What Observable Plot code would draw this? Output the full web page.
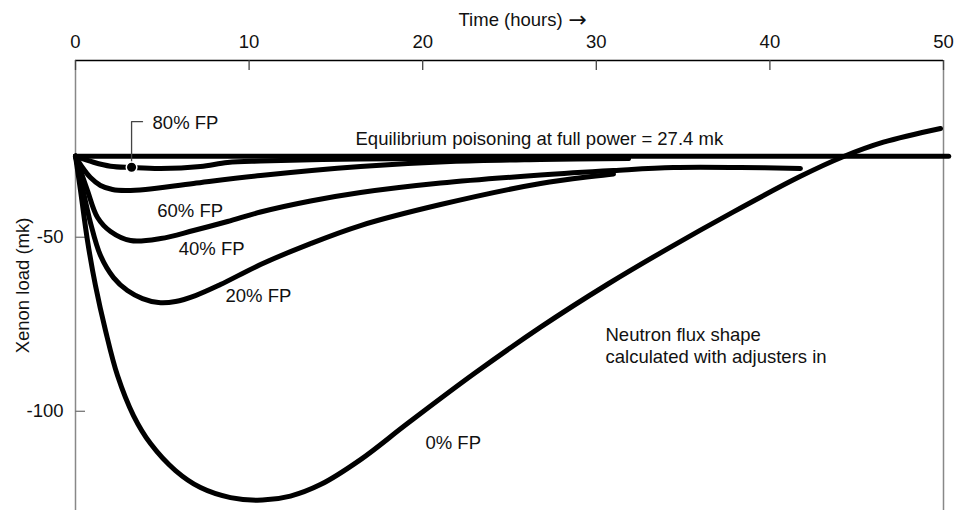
<!DOCTYPE html>
<html>
<head>
<meta charset="utf-8">
<script src="https://cdn.jsdelivr.net/npm/d3@7"></script>
<script src="https://cdn.jsdelivr.net/npm/@observablehq/plot@0.6"></script>
<style>
  html, body { margin: 0; padding: 0; background: #fff; }
  #chart svg { display: block; }
</style>
</head>
<body>
<div id="chart"></div>
<script>
// ---- axis ticks ----
const xTicks = [0, 10, 20, 30, 40, 50];
const yTicks = [-50, -100];
const xDomain = [0, 50];
const yDomain = [-128.5, 0.78];

// ---- series (time in hours, xenon load in mk) ----
const eqHours = [0, 50.3];
const eqLoad = [-26.7, -26.7];

const fp80Hours = [0, 1.04, 2.02, 3.23, 4.90, 7.20, 8.76, 10.66, 16.42, 21.60, 31.85];
const fp80Load  = [-26.7, -28.45, -29.6, -29.97, -30.26, -29.68, -28.53, -28.1, -27.53, -27.38, -27.38];

const fp60Hours = [0, 0.40, 0.86, 1.44, 2.13, 2.88, 4.03, 6.80, 10.66, 16.42, 21.60, 26.79, 31.85];
const fp60Load  = [-26.7, -29.97, -32.84, -35.14, -36.29, -36.58, -36.29, -34.56, -32.27, -29.68, -28.24, -27.67, -27.38];

const fp40Hours = [0, 0.29, 0.69, 1.27, 2.02, 3.17, 4.90, 6.80, 8.76, 10.66, 13.54, 16.42, 21.03, 26.79, 30.99, 34.45, 38.31, 41.76];
const fp40Load  = [-26.7, -30.83, -36.58, -44.33, -48.36, -50.94, -50.37, -48.07, -45.48, -42.75, -39.59, -37.15, -34.42, -32.12, -30.83, -29.97, -29.97, -30.26];

const fp20Hours = [0, 0.29, 0.86, 1.44, 2.19, 2.99, 3.86, 4.78, 5.76, 6.91, 8.35, 10.66, 13.54, 16.42, 21.03, 26.79, 30.99];
const fp20Load  = [-26.7, -33.13, -45.77, -55.25, -61.58, -65.31, -67.61, -68.76, -68.47, -66.75, -63.59, -57.84, -51.81, -46.63, -40.60, -34.56, -31.83];

const fp0Hours = [0, 0.29, 0.69, 1.15, 1.73, 2.42, 3.34, 4.32, 5.76, 7.20, 8.93, 10.77, 12.38, 14.11, 16.42, 19.12, 22.93, 26.79, 30.65, 34.10, 37.90, 41.76, 44.18, 46.54, 49.83];
const fp0Load  = [-26.7, -36.58, -50.94, -63.88, -76.81, -89.74, -101.23, -109.28, -117.04, -121.92, -124.79, -125.51, -124.36, -121.06, -113.88, -103.53, -89.31, -75.83, -63.50, -53.33, -42.70, -32.50, -26.95, -22.70, -18.76];

// ---- annotations ----
const labelTexts = ["60% FP", "40% FP", "20% FP", "0% FP", "Equilibrium poisoning at full power = 27.4 mk", "Neutron flux shape\ncalculated with adjusters in", "80% FP"];
const labelHours = [4.71, 5.95, 8.64, 20.16, 16.13, 30.53, 4.44];
const labelLoads = [-42.3, -53.0, -66.5, -108.9, -21.55, -81.0, -16.8];

const leaderHours = [3.23, 3.23, 3.86];
const leaderLoads = [-29.9, -16.8, -16.8];
const dotHour = [3.23];
const dotLoad = [-29.9];

const xLabel = "Time (hours)";
const xArrow = "\u2192";
const yLabel = "Xenon load (mk)";

// ---- build tables ----
const zip = (xs, ys) => xs.map((x, i) => ({x, y: ys[i]}));
const series = [
  zip(fp80Hours, fp80Load),
  zip(fp60Hours, fp60Load),
  zip(fp40Hours, fp40Load),
  zip(fp20Hours, fp20Load),
  zip(fp0Hours, fp0Load)
];
const eq = zip(eqHours, eqLoad);
const labels = labelTexts.map((t, i) => ({t, x: labelHours[i], y: labelLoads[i]}));
const leader = zip(leaderHours, leaderLoads);
const dot = zip(dotHour, dotLoad);

const font = "'Liberation Sans', Arial, Helvetica, sans-serif";

const chart = Plot.plot({
  width: 954,
  height: 510,
  marginTop: 60,
  marginBottom: 0,
  marginLeft: 75,
  marginRight: 11,
  x: {domain: xDomain},
  y: {domain: yDomain},
  style: {fontFamily: font, fontSize: "18.5px", color: "#111", background: "#fff"},
  marks: [
    // frame lines
    Plot.ruleX([xDomain[0]], {stroke: "#888", strokeWidth: 1.5}),
    Plot.ruleX([xDomain[1]], {stroke: "#888", strokeWidth: 1.5}),
    Plot.ruleY([yDomain[1]], {stroke: "#000", strokeWidth: 1.3}),
    // inward ticks
    Plot.ruleX(xTicks, {x: d => d, insetBottom: 440, stroke: "#444", strokeWidth: 1.3}),
    Plot.ruleY(yTicks, {y: d => d, insetRight: 858, stroke: "#777", strokeWidth: 1.3}),
    // axes labels
    Plot.axisX(xTicks, {anchor: "top", tickSize: 0, tickPadding: 12.5, label: null}),
    Plot.axisY(yTicks, {anchor: "left", tickSize: 0, tickPadding: 12, label: null, tickFormat: d => String(d)}),
    Plot.text([xLabel], {frameAnchor: "top", textAnchor: "start", lineAnchor: "middle", dx: -51, dy: -40}),
    Plot.text([xArrow], {frameAnchor: "top", textAnchor: "start", lineAnchor: "middle", dx: 59, dy: -40.5, fontFamily: "'DejaVu Sans', sans-serif", fontSize: 22}),
    Plot.text([yLabel], {frameAnchor: "left", textAnchor: "middle", lineAnchor: "middle", dx: -52, rotate: -90}),
    // curves
    ...series.map(s => Plot.line(s, {x: "x", y: "y", curve: "catmull-rom", stroke: "#000", strokeWidth: 5, strokeLinecap: "round", strokeLinejoin: "round"})),
    Plot.line(eq, {x: "x", y: "y", stroke: "#000", strokeWidth: 5, strokeLinecap: "round"}),
    // annotations
    Plot.line(leader, {x: "x", y: "y", stroke: "#444", strokeWidth: 1.3}),
    Plot.dot(dot, {x: "x", y: "y", r: 5.3, fill: "#000", stroke: "#fff", strokeWidth: 1.5}),
    Plot.text(labels, {x: "x", y: "y", text: "t", textAnchor: "start", lineAnchor: "middle", lineHeight: 1.15, fill: "#111"})
  ]
});

document.getElementById("chart").appendChild(chart);
</script>
</body>
</html>
